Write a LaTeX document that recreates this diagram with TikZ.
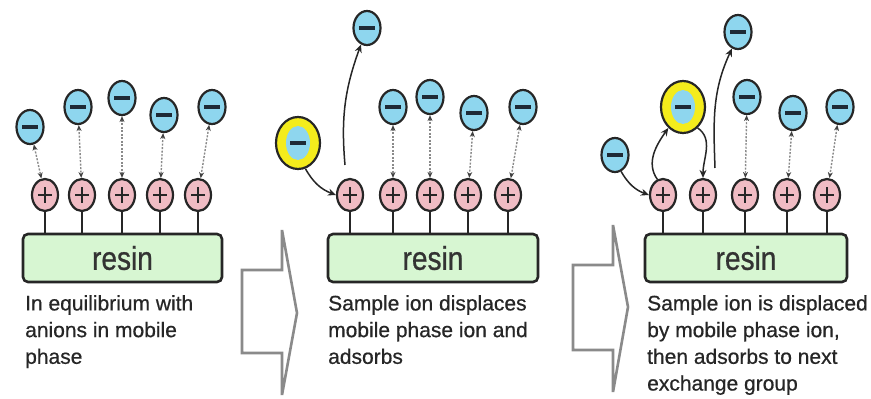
\documentclass[tikz,border=0pt]{standalone}
\usepackage{fontspec}
\setmainfont[FakeBold=0.6]{Liberation Sans}
\newfontfamily\fresina[FakeStretch=0.85,FakeBold=0.8]{Liberation Sans}
\usepackage{tikz}
\usetikzlibrary{positioning,arrows.meta,shapes.geometric,calc}
\definecolor{crosa}{HTML}{F0BCC4}
\definecolor{cceleste}{HTML}{8ED6EE}
\definecolor{cverde}{HTML}{D7F6D2}
\definecolor{camarillo}{HTML}{F4EC1C}
\definecolor{cgris}{HTML}{8A8A8A}
\definecolor{coscuro}{HTML}{1E2A36}
\tikzset{
  cation/.style={ellipse, draw=black!85, line width=2.2pt, fill=crosa,
    minimum width=26pt, minimum height=32pt, inner sep=0pt,
    path picture={\draw[line width=2.2pt]
      ([xshift=-7pt]path picture bounding box.center) -- ([xshift=7pt]path picture bounding box.center)
      ([yshift=-8pt]path picture bounding box.center) -- ([yshift=8pt]path picture bounding box.center);}},
  anion/.style={ellipse, draw=black!85, line width=2.2pt, fill=cceleste,
    minimum width=27pt, minimum height=34pt, inner sep=0pt,
    path picture={\draw[line width=4pt, coscuro]
      ([xshift=-8pt]path picture bounding box.center) -- ([xshift=8pt]path picture bounding box.center);}},
  muestra/.style={ellipse, draw=black!85, line width=2.2pt, fill=camarillo,
    minimum width=44pt, minimum height=52pt, inner sep=0pt,
    path picture={\fill[cceleste] (path picture bounding box.center) ellipse (12pt and 17pt);
      \draw[line width=4pt, coscuro]
      ([xshift=-8pt]path picture bounding box.center) -- ([xshift=8pt]path picture bounding box.center);}},
  resina/.style={rectangle, rounded corners=5pt, draw=black!85, line width=2.6pt, fill=cverde,
    minimum height=48pt, inner sep=0pt, text=black!80, font=\fresina\fontsize{33}{36}\selectfont},
  tallo/.style={line width=2.2pt, draw=black!85},
  flecha/.style={-{Stealth[length=8pt,width=7pt]}, line width=1.5pt, draw=black!85},
  punteada/.style={{Stealth[length=6pt,width=5pt,color=black!75]}-{Stealth[length=6pt,width=5pt,color=black!75]},
    dash pattern=on 2pt off 1.5pt, line width=1.4pt, draw=cgris},
  flechota/.style={line width=2.6pt, draw=cgris, line join=miter},
  etq/.style={anchor=north west, align=left, inner sep=0pt, text=black!85,
    font=\fontsize{21}{26.7}\selectfont},
}
\begin{document}
\begin{tikzpicture}[x=1pt,y=1pt]
  \useasboundingbox[fill=white] (0,0) rectangle (871,399);

  \node[resina, minimum width=199pt] (ra) at (122.5,141) {resin};
  \node[resina, minimum width=210pt] (rb) at (433,141) {resin};
  \node[resina, minimum width=202pt] (rc) at (746,141) {resin};

  \foreach \x [count=\i] in {45,82,122,160,198} {
    \node[cation] (pa\i) at (\x,204) {};
    \draw[tallo] (pa\i.south) -- (pa\i.south |- ra.north);
  }
  \foreach \x [count=\i] in {350,393,430,468,508} {
    \node[cation] (pb\i) at (\x,204) {};
    \draw[tallo] (pb\i.south) -- (pb\i.south |- rb.north);
  }
  \foreach \x [count=\i] in {663,703,745,787,827} {
    \node[cation] (pc\i) at (\x,204) {};
    \draw[tallo] (pc\i.south) -- (pc\i.south |- rc.north);
  }

  \foreach \x/\y [count=\i] in {30/272,78/292,122/301,164/284,212/292} {
    \node[anion] (na\i) at (\x,\y) {};
    \draw[punteada] (na\i) -- (pa\i);
  }
  \foreach \x/\y/\i in {393/292/2,430/302/3,474/286/4,523/292/5} {
    \node[anion] (nb\i) at (\x,\y) {};
    \draw[punteada] (nb\i) -- (pb\i);
  }
  \foreach \x/\y/\i in {747/302/3,793/286/4,840/292/5} {
    \node[anion] (nc\i) at (\x,\y) {};
    \draw[punteada] (nc\i) -- (pc\i);
  }

  \node[muestra] (mb) at (298,256) {};
  \node[anion] (nb0) at (367,371) {};
  \coordinate (xb) at (345,234);
  \draw[flecha] (mb) to[bend right=20] (pb1.west);
  \draw[flecha] (xb) to[out=95, in=250] (nb0.250);

  \node[muestra] (mc) at (683,292) {};
  \node[anion] (nc0) at (738,367) {};
  \node[anion] (nc1) at (615,244) {};
  \coordinate (xc) at (715,231);
  \draw[flecha] (nc1) to[bend right=20] (pc1.west);
  \draw[flecha] (pc1.110) to[out=125, in=235] (mc.235);
  \draw[flecha] (mc.-55) to[out=-35, in=90] (pc2.north);
  \draw[flecha] (xc) to[out=92, in=245] (nc0.250);

  \draw[flechota] (242,129) -- (282,129) -- (282,169) -- (297,86) -- (282,4) -- (282,46) -- (242,46) -- cycle;
  \draw[flechota] (573,134) -- (613,134) -- (613,174) -- (628,92) -- (613,7) -- (613,49) -- (573,49) -- cycle;

  \node[etq] (ta) at (25,104) {In equilibrium with\\anions in mobile\\phase};
  \node[etq] (tb) at (328,104) {Sample ion displaces\\mobile phase ion and\\adsorbs};
  \node[etq] (tc) at (647,104) {Sample ion is displaced\\by mobile phase ion,\\then adsorbs to next\\exchange group};
\end{tikzpicture}
\end{document}
